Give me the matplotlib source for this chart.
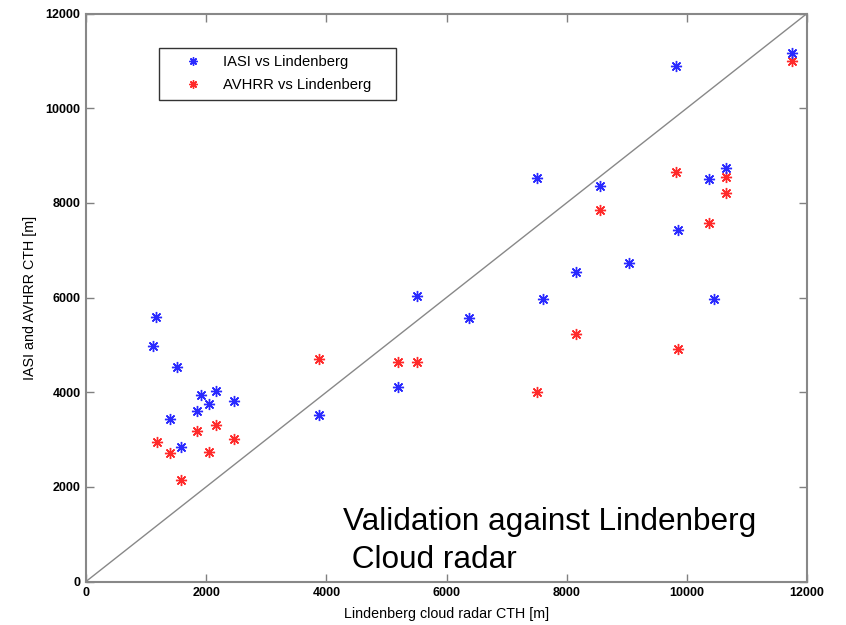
import matplotlib
matplotlib.use("Agg")
import matplotlib.pyplot as plt

iasi_x = [1165, 1120, 1509, 1914, 2164, 2053, 2469, 1853, 1398, 1576, 3883, 5199, 5515,
          6380, 7512, 7601, 8156, 8555, 9043, 9820, 9853, 10364, 10452, 10652, 11745]
iasi_y = [5592, 4974, 4537, 3932, 4023, 3749, 3819, 3608, 3425, 2847, 3516, 4101, 6030,
          5559, 8528, 5966, 6543, 8360, 6720, 10893, 7423, 8494, 5973, 8726, 11168]
avhrr_x = [1176, 1398, 1576, 1853, 2053, 2164, 2469, 3883, 5199, 5515, 7512, 8156, 8555,
           9820, 9848, 10364, 10652, 10652, 11745]
avhrr_y = [2953, 2714, 2144, 3178, 2735, 3305, 3009, 4693, 4642, 4642, 4002, 5227, 7846,
           8655, 4910, 7578, 8549, 8198, 10999]
ticks = [0, 2000, 4000, 6000, 8000, 10000, 12000]

plt.rcParams['font.family'] = ['Liberation Sans', 'DejaVu Sans']
fig = plt.figure(figsize=(8.46, 6.25), dpi=100)
ax = fig.add_axes([86/846, 1-581.5/625, (807-86)/846, (581.5-13.5)/625])

ax.plot([0, 12000], [0, 12000], color='#888888', lw=1.0, zorder=1)
mk = (8, 2, 0)
ax.plot(iasi_x, iasi_y, linestyle='none', marker=mk, markersize=8, mew=1.0,
        color='#2a2aff', label='IASI vs Lindenberg', zorder=3)
ax.plot(avhrr_x, avhrr_y, linestyle='none', marker=mk, markersize=8, mew=1.0,
        color='#ff2a2a', label='AVHRR vs Lindenberg', zorder=2)

ax.set_xlim(0, 12000)
ax.set_ylim(0, 12000)
ax.set_xticks(ticks)
ax.set_yticks(ticks)
ax.set_xticklabels([str(t) for t in ticks], fontsize=9, fontweight='bold')
ax.set_yticklabels([str(t) for t in ticks], fontsize=9, fontweight='bold')
ax.tick_params(direction='in', length=6, width=1, color='#808080',
               top=True, right=True, pad=4)
for s in ax.spines.values():
    s.set_color('#888888')
    s.set_linewidth(1.5)

ax.set_xlabel('Lindenberg cloud radar CTH [m]', fontsize=10.3, labelpad=6)
ax.set_ylabel('IASI and AVHRR CTH [m]', fontsize=10.3, labelpad=6)

leg = ax.legend(loc='upper left',
                bbox_to_anchor=(159/846, 1-98/625, (396-159)/846, 50/625),
                mode='expand',
                bbox_transform=fig.transFigure, fancybox=False, frameon=True,
                edgecolor='#333333', fontsize=10.6, handlelength=3.67,
                borderpad=0.5, labelspacing=0.6, handletextpad=0.2,
                borderaxespad=0, markerscale=0.75, framealpha=1)
leg.get_frame().set_linewidth(1.0)

fig.text(343/846, 1-568/625, 'Validation against Lindenberg\n Cloud radar',
         fontsize=22.7, ha='left', va='baseline', linespacing=1.35)

fig.savefig('out.png', dpi=100)
